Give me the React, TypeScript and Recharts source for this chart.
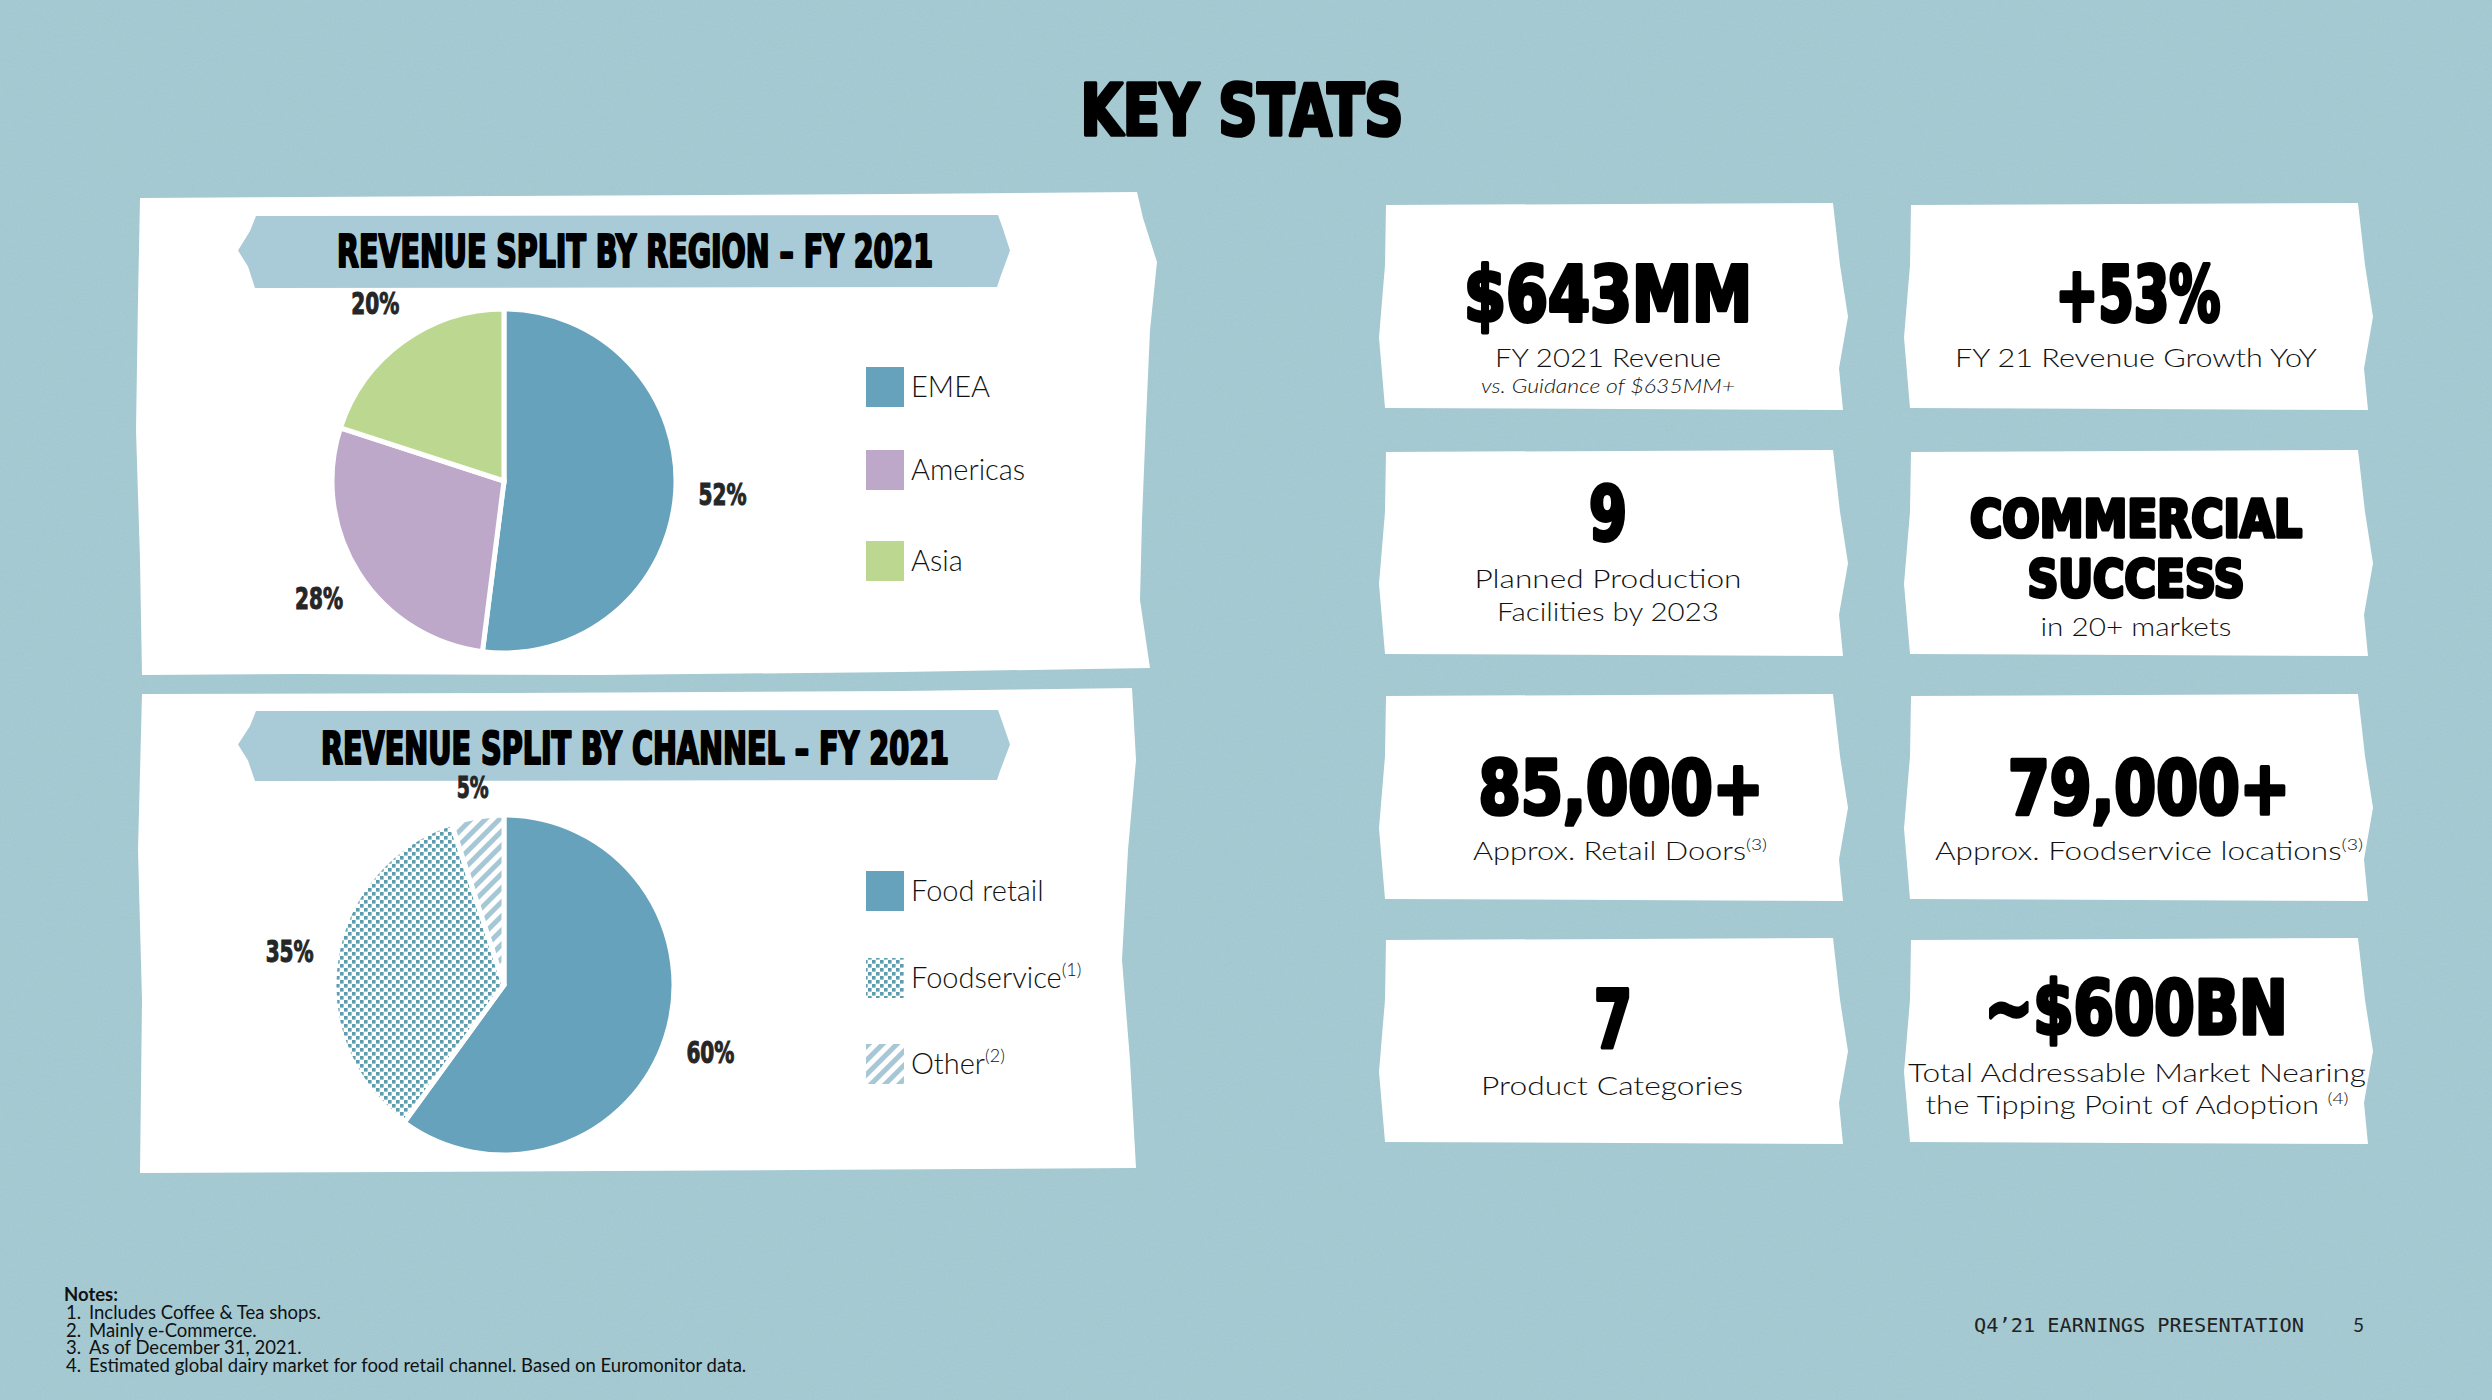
import { PieChart, Pie, Cell } from "recharts";

const REGIONS = ["EMEA", "Americas", "Asia"];
const REGION_SHARE = [52, 28, 20];
const REGION_COLORS = ["#66a2bc", "#bea8c9", "#bcd890"];

const CHANNELS = ["Food retail", "Foodservice", "Other"];
const CHANNEL_NOTES = ["", "(1)", "(2)"];
const CHANNEL_SHARE = [60, 35, 5];
const CHANNEL_FILLS = ["#66a2bc", "url(#dotFill)", "url(#stripeFill)"];

const NOTES = [
  "Includes Coffee & Tea shops.",
  "Mainly e-Commerce.",
  "As of  December 31, 2021.",
  "Estimated global dairy market for food retail channel. Based on Euromonitor data.",
];

const BG = "#a3cad3";
const BANNER = "#a9cbd8";
const DISPLAY = "'DejaVu Sans Condensed', 'DejaVu Sans', sans-serif";
const BODY = "Lato, 'Open Sans', sans-serif";

const regionData = REGIONS.map((name, i) => ({ name, value: REGION_SHARE[i] }));
const channelData = CHANNELS.map((name, i) => ({ name, value: CHANNEL_SHARE[i] }));

const RAD = Math.PI / 180;

function pieLabel(props: any) {
  const { cx, cy, midAngle, outerRadius, value, percent } = props;
  // thin slices sit a little closer to the pie so the label clears the banner
  const r = outerRadius + (percent < 0.1 ? 30 : 47);
  const x = cx + r * Math.cos(-midAngle * RAD);
  const y = cy + r * Math.sin(-midAngle * RAD);
  const txt = `${value}%`;
  return (
    <text
      x={x}
      y={y}
      textAnchor="middle"
      dominantBaseline="central"
      fontFamily={DISPLAY}
      fontWeight={700}
      fontSize={30}
      fill="#262626"
      stroke="#262626"
      strokeWidth={1}
      textLength={txt.length * 16}
      lengthAdjust="spacingAndGlyphs"
    >
      {txt}
    </text>
  );
}

function Heavy({ x, y, w, size, weight = 0.05, children }: { x: number; y: number; w: number; size: number; weight?: number; children: React.ReactNode }) {
  return (
    <text
      x={x}
      y={y}
      textAnchor="middle"
      fontFamily={DISPLAY}
      fontWeight={700}
      fontSize={size}
      fill="#000"
      stroke="#000"
      strokeWidth={size * weight}
      strokeLinejoin="round"
      textLength={w}
      lengthAdjust="spacingAndGlyphs"
    >
      {children}
    </text>
  );
}

function Caption({ x, y, w, size = 26, italic = false, sup, children }: { x: number; y: number; w: number; size?: number; italic?: boolean; sup?: string; children: React.ReactNode }) {
  return (
    <text
      x={x}
      y={y}
      textAnchor="middle"
      fontFamily={BODY}
      fontWeight={300}
      fontStyle={italic ? "italic" : "normal"}
      fontSize={size}
      fill="#111"
      textLength={w}
      lengthAdjust="spacingAndGlyphs"
    >
      {children}
      {sup ? (
        <tspan fontSize={size * 0.62} dy={-size * 0.38}>
          {sup}
        </tspan>
      ) : null}
    </text>
  );
}

function cardPoints(x0: number, y0: number, x1: number, y1: number) {
  const h = y1 - y0;
  const pts = [
    [x0 + 4, y0 + 2],
    [x1 - 10, y0],
    [x1 - 3, y0 + 0.3 * h],
    [x1 + 5, y0 + 0.55 * h],
    [x1 - 4, y0 + 0.8 * h],
    [x1, y1],
    [x0 + 3, y1 - 2],
    [x0 - 3, y0 + 0.65 * h],
    [x0 + 3, y0 + 0.3 * h],
  ];
  return pts.map((p) => p.join(",")).join(" ");
}

const COLS = [1382, 1907];
const COL_W = 461;
const ROWS = [
  [203, 410],
  [450, 656],
  [694, 901],
  [938, 1144],
];

const BANNER_PTS = (y0: number, y1: number) => {
  const m = (y0 + y1) / 2;
  return `256,${y0 + 1} 998,${y0} 1003,${y0 + 14} 1010,${m} 1000,${y1 - 8} 997,${y1 + 1} 255,${y1 + 2} 248,${m + 16} 238,${m} 250,${y0 + 16}`;
};

export default function App() {
  return (
    <div style={{ position: "absolute", left: 0, top: 0, width: 2492, height: 1400, overflow: "hidden", background: BG }}>
      <svg width={2492} height={1400} style={{ position: "absolute", left: 0, top: 0 }}>
        <defs>
          <pattern id="dotFill" width={8} height={8} patternUnits="userSpaceOnUse">
            <rect width={8} height={8} fill="#fff" />
            <rect x={0} y={0} width={3.6} height={3.6} fill="#5d9dad" />
            <rect x={4} y={4} width={3.6} height={3.6} fill="#5d9dad" />
          </pattern>
          <pattern id="stripeFill" width={10} height={10} patternUnits="userSpaceOnUse" patternTransform="rotate(45)">
            <rect width={10} height={10} fill="#fff" />
            <rect x={0} y={0} width={5} height={10} fill="#a6c7d5" />
          </pattern>
          <filter id="grain" x="0" y="0" width="100%" height="100%">
            <feTurbulence type="fractalNoise" baseFrequency="0.75" numOctaves={2} seed={4} />
            <feColorMatrix type="saturate" values="0" />
          </filter>
        </defs>
        <rect width={2492} height={1400} fill={BG} />
        <rect width={2492} height={1400} filter="url(#grain)" opacity={0.13} />

        {/* left panels */}
        <polygon
          points="140,198 500,196 900,194 1137,192 1143,218 1157,262 1150,330 1146,420 1142,520 1140,600 1150,668 900,672 600,675 300,674 142,675 140,560 136,430 138,300"
          fill="#fff"
        />
        <polygon
          points="142,694 500,693 900,691 1132,688 1136,760 1128,850 1122,960 1130,1060 1136,1168 800,1170 400,1172 140,1173 142,1000 138,850"
          fill="#fff"
        />
        <polygon points={BANNER_PTS(215, 286)} fill={BANNER} />
        <polygon points={BANNER_PTS(710, 779)} fill={BANNER} />

        {/* stat cards */}
        {ROWS.map(([y0, y1]) =>
          COLS.map((x0) => <polygon key={`${x0}-${y0}`} points={cardPoints(x0, y0, x0 + COL_W, y1)} fill="#fff" />)
        )}

        {/* titles */}
        <Heavy x={1242} y={135} w={323} size={72}>KEY STATS</Heavy>
        <Heavy x={635} y={267} w={596} size={44}>REVENUE SPLIT BY REGION – FY 2021</Heavy>
        <Heavy x={635} y={764} w={628} size={44}>REVENUE SPLIT BY CHANNEL – FY 2021</Heavy>

        {/* region legend */}
        {REGIONS.map((name, i) => {
          const cy = [387, 470, 561][i];
          return (
            <g key={name}>
              <rect x={866} y={cy - 20} width={38} height={40} fill={REGION_COLORS[i]} />
              <text x={911} y={cy + 10} fontFamily={BODY} fontWeight={300} fontSize={29} fill="#111">
                {name}
              </text>
            </g>
          );
        })}

        {/* channel legend */}
        {CHANNELS.map((name, i) => {
          const cy = [891, 978, 1064][i];
          return (
            <g key={name}>
              <rect x={866} y={cy - 20} width={38} height={40} fill={CHANNEL_FILLS[i]} />
              <text x={911} y={cy + 10} fontFamily={BODY} fontWeight={300} fontSize={29} fill="#111">
                {name}
                {CHANNEL_NOTES[i] ? (
                  <tspan fontSize={18} dy={-12}>
                    {CHANNEL_NOTES[i]}
                  </tspan>
                ) : null}
              </text>
            </g>
          );
        })}

        {/* card contents */}
        <Heavy x={1608} y={321} w={288} size={77}>$643MM</Heavy>
        <Caption x={1608} y={367} w={226}>FY 2021 Revenue</Caption>
        <Caption x={1608} y={393} w={254} size={19} italic>vs. Guidance of $635MM+</Caption>

        <Heavy x={2138} y={321} w={165} size={77}>+53%</Heavy>
        <Caption x={2136} y={367} w={362}>FY 21 Revenue Growth YoY</Caption>

        <Heavy x={1608} y={540} w={38} size={75}>9</Heavy>
        <Caption x={1608} y={588} w={267}>Planned Production</Caption>
        <Caption x={1608} y={621} w={222}>Facilities by 2023</Caption>

        <Heavy x={2136} y={537} w={332} size={52} weight={0.07}>COMMERCIAL</Heavy>
        <Heavy x={2136} y={597} w={217} size={52} weight={0.07}>SUCCESS</Heavy>
        <Caption x={2136} y={636} w={191}>in 20+ markets</Caption>

        <Heavy x={1621} y={814} w={285} size={74}>85,000+</Heavy>
        <Caption x={1620} y={860} w={294} sup="(3)">Approx. Retail Doors</Caption>

        <Heavy x={2149} y={814} w={282} size={74}>79,000+</Heavy>
        <Caption x={2149} y={860} w={428} sup="(3)">Approx. Foodservice locations</Caption>

        <Heavy x={1613} y={1047} w={38} size={80}>7</Heavy>
        <Caption x={1612} y={1095} w={262}>Product Categories</Caption>

        <Heavy x={2136} y={1034} w={303} size={74}>~$600BN</Heavy>
        <Caption x={2137} y={1082} w={458}>Total Addressable Market Nearing</Caption>
        <Caption x={2137} y={1114} w={423} sup="(4)">the Tipping Point of Adoption </Caption>

        {/* notes */}
        <text x={64} y={1301} fontFamily={BODY} fontWeight={700} fontSize={18.5} fill="#111">
          Notes:
        </text>
        {NOTES.map((n, i) => (
          <g key={n}>
            <text x={66} y={1319 + i * 17.5} fontFamily={BODY} fontSize={18.5} fill="#111">
              {`${i + 1}.`}
            </text>
            <text x={89} y={1319 + i * 17.5} fontFamily={BODY} fontSize={18.5} fill="#111">
              {n}
            </text>
          </g>
        ))}

        {/* footer */}
        <text
          x={1974}
          y={1332}
          fontFamily="'DejaVu Sans Mono', 'Liberation Mono', monospace"
          fontSize={19}
          fill="#222"
          textLength={330}
          lengthAdjust="spacingAndGlyphs"
        >
          Q4’21 EARNINGS PRESENTATION
        </text>
        <text x={2353} y={1332} fontFamily={BODY} fontSize={19} fill="#222">
          5
        </text>
      </svg>

      <div style={{ position: "absolute", left: 0, top: 0 }}>
        <PieChart width={2492} height={1400} margin={{ top: 0, right: 0, bottom: 0, left: 0 }}>
          <Pie
            data={regionData}
            dataKey="value"
            nameKey="name"
            cx={504}
            cy={481}
            outerRadius={172}
            startAngle={90}
            endAngle={-270}
            stroke="#fff"
            strokeWidth={5}
            label={pieLabel}
            labelLine={false}
            isAnimationActive={false}
          >
            {regionData.map((d, i) => (
              <Cell key={d.name} fill={REGION_COLORS[i]} />
            ))}
          </Pie>
          <Pie
            data={channelData}
            dataKey="value"
            nameKey="name"
            cx={504}
            cy={985}
            outerRadius={170}
            startAngle={90}
            endAngle={-270}
            stroke="#fff"
            strokeWidth={5}
            label={pieLabel}
            labelLine={false}
            isAnimationActive={false}
          >
            {channelData.map((d, i) => (
              <Cell key={d.name} fill={CHANNEL_FILLS[i]} />
            ))}
          </Pie>
        </PieChart>
      </div>
    </div>
  );
}
